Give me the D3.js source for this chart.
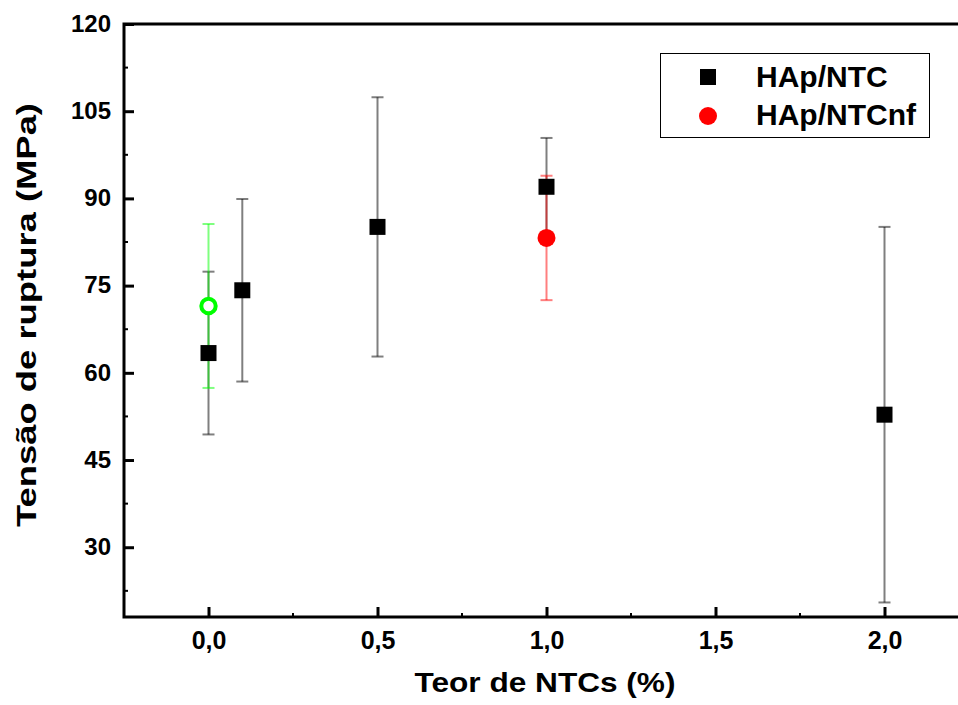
<!DOCTYPE html>
<html>
<head>
<meta charset="utf-8">
<script src="https://cdn.jsdelivr.net/npm/d3@7"></script>
<style>
  body { margin: 0; background: #fff; }
  svg text { font-family: "Liberation Sans", Arial, sans-serif; font-weight: bold; }
</style>
</head>
<body>
<svg id="chart" width="958" height="705"></svg>
<script>
// HAp/NTC series
const ntcX = [0, 0.1, 0.5, 1.0, 2.0];
const ntcY = [63.4, 74.2, 85.1, 92.0, 52.8];
const ntcErr = [14.0, 15.7, 22.3, 8.4, 32.3];
// HAp/NTCnf series
const nfX = [1.0];
const nfY = [83.2];
const nfErr = [10.7];
// reference point (green, not in legend)
const refX = [0];
const refY = [71.5];
const refErr = [14.1];

const xTicks = [0, 0.5, 1.0, 1.5, 2.0];
const yTicks = [30, 45, 60, 75, 90, 105, 120];
const xMinor = [0.25, 0.75, 1.25, 1.75];
const yMinor = [22.5, 37.5, 52.5, 67.5, 82.5, 97.5, 112.5];
const legendNames = ['HAp/NTC', 'HAp/NTCnf'];

const svg = d3.select('#chart');
const margin = { top: 24, left: 124 };
const x = d3.scaleLinear().domain([-0.25, 2.25]).range([margin.left, margin.left + 169 * 5]);
const y = d3.scaleLinear().domain([18, 120]).range([617, margin.top]);
const fmt = d => d3.format('.1f')(d).replace('.', ',');

// axes: ticks pointing inward
const xAxis = d3.axisBottom(x).tickValues(xTicks).tickSize(-10).tickPadding(14).tickFormat(fmt);
const yAxis = d3.axisLeft(y).tickValues(yTicks).tickSize(-10).tickPadding(13).tickFormat(d3.format('d'));

svg.append('g').attr('transform', 'translate(0,' + y(18) + ')')
    .call(xAxis)
    .call(function (g) {
        g.select('.domain').remove();
        g.selectAll('.tick line').attr('stroke', '#000').attr('stroke-width', 3);
        g.selectAll('.tick text').attr('font-size', 25).attr('fill', '#000');
    });
svg.append('g').attr('transform', 'translate(' + margin.left + ',0)')
    .call(yAxis)
    .call(function (g) {
        g.select('.domain').remove();
        g.selectAll('.tick line').attr('stroke', '#000').attr('stroke-width', 3);
        g.selectAll('.tick text').attr('font-size', 24).attr('fill', '#000').attr('dy', '0.3em');
    });

// minor ticks
svg.append('g').selectAll('line').data(xMinor).join('line')
    .attr('x1', d => x(d)).attr('x2', d => x(d))
    .attr('y1', y(18)).attr('y2', y(18) - 4)
    .attr('stroke', '#000').attr('stroke-width', 2);
svg.append('g').selectAll('line').data(yMinor).join('line')
    .attr('x1', margin.left).attr('x2', margin.left + 4)
    .attr('y1', d => y(d)).attr('y2', d => y(d))
    .attr('stroke', '#000').attr('stroke-width', 2);

// frame
svg.append('path')
    .attr('d', 'M' + x(2.25) + ',' + y(120) + 'H' + x(-0.25) + 'V' + y(18) + 'H' + x(2.25))
    .attr('fill', 'none').attr('stroke', '#000').attr('stroke-width', 3)
    .attr('stroke-linecap', 'square');

// error bars
function errorBars(xs, ys, es, color) {
    const g = svg.append('g').attr('stroke', color).attr('stroke-opacity', 0.5).attr('stroke-width', 2);
    xs.forEach(function (xv, i) {
        const cx = x(xv), top = y(ys[i] + es[i]), bot = y(ys[i] - es[i]);
        g.append('line').attr('x1', cx).attr('x2', cx).attr('y1', top).attr('y2', bot);
        g.append('line').attr('x1', cx - 6).attr('x2', cx + 6).attr('y1', top).attr('y2', top);
        g.append('line').attr('x1', cx - 6).attr('x2', cx + 6).attr('y1', bot).attr('y2', bot);
    });
}
errorBars(ntcX, ntcY, ntcErr, '#000');
errorBars(refX, refY, refErr, '#00ff00');
errorBars(nfX, nfY, nfErr, '#ff0000');

// markers
svg.append('g').selectAll('rect').data(ntcX).join('rect')
    .attr('x', d => x(d) - 8).attr('y', (d, i) => y(ntcY[i]) - 8)
    .attr('width', 16).attr('height', 16).attr('fill', '#000');
svg.append('g').selectAll('circle').data(refX).join('circle')
    .attr('cx', d => x(d)).attr('cy', (d, i) => y(refY[i])).attr('r', 7.2)
    .attr('fill', '#fff').attr('stroke', '#00ff00').attr('stroke-width', 4);
svg.append('g').selectAll('circle').data(nfX).join('circle')
    .attr('cx', d => x(d)).attr('cy', (d, i) => y(nfY[i])).attr('r', 9)
    .attr('fill', '#ff0000');

// axis titles
svg.append('text').attr('x', 545).attr('y', 692).attr('text-anchor', 'middle')
    .attr('font-size', 28).attr('textLength', 261).attr('lengthAdjust', 'spacingAndGlyphs')
    .text('Teor de NTCs (%)');
svg.append('text').attr('transform', 'translate(36,315) rotate(-90)').attr('text-anchor', 'middle')
    .attr('font-size', 28).attr('textLength', 424).attr('lengthAdjust', 'spacingAndGlyphs')
    .text('Tensão de ruptura (MPa)');

// legend
const lg = svg.append('g');
lg.append('rect').attr('x', 660.5).attr('y', 53.5).attr('width', 269).attr('height', 84)
    .attr('fill', '#fff').attr('stroke', '#000').attr('stroke-width', 1);
lg.append('rect').attr('x', 700).attr('y', 69).attr('width', 16).attr('height', 16).attr('fill', '#000');
lg.append('circle').attr('cx', 708).attr('cy', 116).attr('r', 9).attr('fill', '#ff0000');
lg.selectAll('text.lbl').data(legendNames).join('text').attr('class', 'lbl')
    .attr('x', 756).attr('y', (d, i) => 87 + i * 38)
    .attr('font-size', 30).text(d => d);
</script>
</body>
</html>
